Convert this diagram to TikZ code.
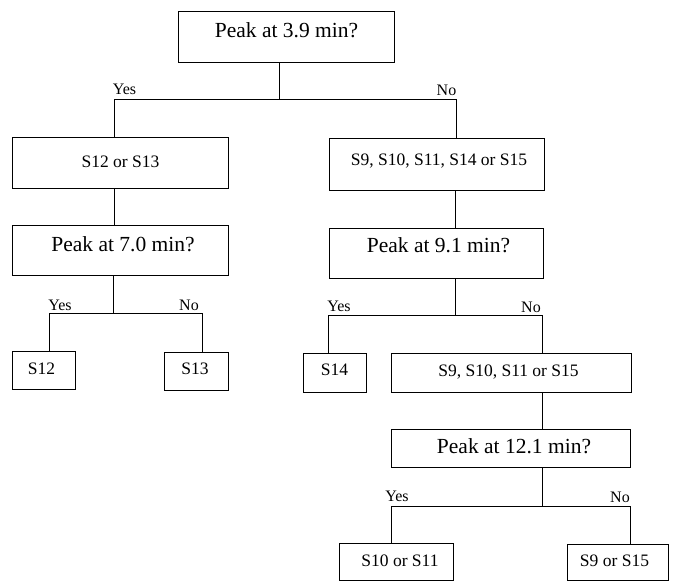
\documentclass[tikz,border=0pt]{standalone}
\usepackage{fontspec}
\setmainfont{Liberation Serif}
\begin{document}
\begin{tikzpicture}[x=1pt,y=-1pt,
  box/.style={draw=black,line width=0.9pt,inner sep=0pt,outer sep=0pt,rectangle},
  qtext/.style={anchor=base,inner sep=0pt,font=\fontsize{21.5}{24}\selectfont},
  btext/.style={anchor=base,inner sep=0pt,font=\fontsize{17.5}{20}\selectfont},
  ytext/.style={anchor=base,inner sep=0pt,font=\fontsize{16}{18}\selectfont},
  conn/.style={draw=black,line width=0.9pt}]
\useasboundingbox (0,0) rectangle (673,581);
% boxes: centre, size
\node[box,minimum width=216pt,minimum height=51pt] (q1) at (286,36.5) {};
\node[box,minimum width=216pt,minimum height=51pt] (b1) at (120,162.5) {};
\node[box,minimum width=215pt,minimum height=52pt] (b2) at (436.5,164) {};
\node[box,minimum width=216pt,minimum height=50pt] (q2) at (120,250) {};
\node[box,minimum width=214pt,minimum height=50pt] (q3) at (436,253) {};
\node[box,minimum width=63pt,minimum height=38pt] (l1) at (43.5,370) {};
\node[box,minimum width=64pt,minimum height=38pt] (l2) at (196,371) {};
\node[box,minimum width=63pt,minimum height=39pt] (l3) at (334.5,372.5) {};
\node[box,minimum width=240pt,minimum height=39pt] (b3) at (511,372.5) {};
\node[box,minimum width=239pt,minimum height=38pt] (q4) at (510.5,448) {};
\node[box,minimum width=114pt,minimum height=37pt] (l4) at (396,561.5) {};
\node[box,minimum width=101pt,minimum height=36pt] (l5) at (617.5,562) {};
% texts
\node[qtext] (tq1) at (286.5,37) {Peak at 3.9 min?};
\node[btext] (tb1) at (120.5,167) {S12 or S13};
\node[btext] (tb2) at (439,165) {S9, S10, S11, S14 or S15};
\node[qtext] (tq2) at (123,251) {Peak at 7.0 min?};
\node[qtext] (tq3) at (438.5,252) {Peak at 9.1 min?};
\node[btext] (tl1) at (41.5,374) {S12};
\node[btext] (tl2) at (195,374) {S13};
\node[btext] (tl3) at (334.5,375) {S14};
\node[btext] (tb3) at (508.5,376.5) {S9, S10, S11 or S15};
\node[qtext] (tq4) at (514,453) {Peak at 12.1 min?};
\node[btext] (tl4) at (400,566.5) {S10 or S11};
\node[btext] (tl5) at (614.5,566.5) {S9 or S15};
% yes / no labels
\node[ytext] (y1) at (124.5,94) {Yes};
\node[ytext] (n1) at (446.5,95) {No};
\node[ytext] (y2) at (60,310) {Yes};
\node[ytext] (n2) at (189,310) {No};
\node[ytext] (y3) at (339,311.5) {Yes};
\node[ytext] (n3) at (531,312) {No};
\node[ytext] (y4) at (397,501.5) {Yes};
\node[ytext] (n4) at (620,502) {No};
% junctions
\coordinate (j1) at (279,99.5);
\coordinate (j1L) at (114,99.5);
\coordinate (j1R) at (456,99.5);
\coordinate (j2) at (113,313);
\coordinate (j2L) at (49,313);
\coordinate (j2R) at (202,313);
\coordinate (j3) at (455,315);
\coordinate (j3L) at (328,315);
\coordinate (j3R) at (542,315);
\coordinate (j4) at (542,506);
\coordinate (j4L) at (391,506);
\coordinate (j4R) at (630,506);
% connectors
\draw[conn] (q1.south -| j1) -- (j1);
\draw[conn] (b1.north -| j1L) -- (j1L) -- (j1R) -- (b2.north -| j1R);
\draw[conn] (b1.south -| j1L) -- (q2.north -| j1L);
\draw[conn] (b2.south -| j3) -- (q3.north -| j3);
\draw[conn] (q2.south -| j2) -- (j2);
\draw[conn] (l1.north -| j2L) -- (j2L) -- (j2R) -- (l2.north -| j2R);
\draw[conn] (q3.south -| j3) -- (j3);
\draw[conn] (l3.north -| j3L) -- (j3L) -- (j3R) -- (b3.north -| j3R);
\draw[conn] (b3.south -| j4) -- (q4.north -| j4);
\draw[conn] (q4.south -| j4) -- (j4);
\draw[conn] (l4.north -| j4L) -- (j4L) -- (j4R) -- (l5.north -| j4R);
\end{tikzpicture}
\end{document}
